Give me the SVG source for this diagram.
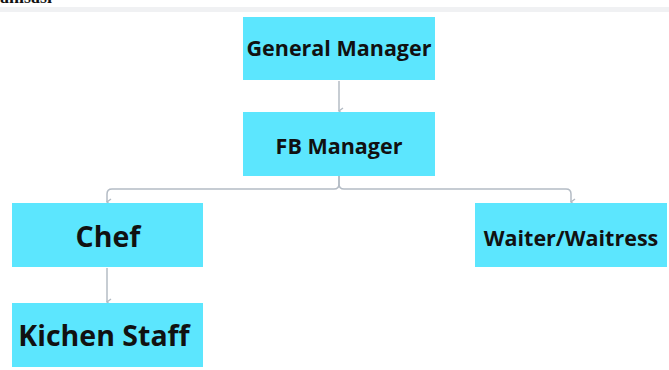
<svg xmlns="http://www.w3.org/2000/svg" width="669" height="370" viewBox="0 0 669 370">
<style>
.box{fill:#5ce6fe;}
.lbl{font-family:"Open Sans","Noto Sans","DejaVu Sans",sans-serif;font-weight:700;fill:#111;text-anchor:middle;dominant-baseline:central;}
.s{font-size:21.5px;}
.l{font-size:28.5px;}
.con{fill:none;stroke:#b4bcc5;stroke-width:1.5;marker-end:url(#ah);}
</style>
<defs>
<marker id="ah" viewBox="0 0 8 8" refX="4" refY="6" markerWidth="8" markerHeight="8" markerUnits="userSpaceOnUse" orient="auto-start-reverse">
<path d="M1,2 L4,6 L7,2" fill="none" stroke="#b4bcc5" stroke-width="1.4"/>
</marker>
</defs>
<rect width="669" height="370" fill="#fff"/>
<text x="0" y="3" font-family="Liberation Serif,serif" font-weight="700" font-size="18" fill="#111">anisasi</text>
<rect x="0" y="7" width="669" height="5" fill="#f0f1f3"/>
<g id="connectors">
<path class="con" d="M339,81 V111"/>
<path class="con" d="M339,176 V184 Q339,189 334,189 H112 Q107,189 107,194 V202"/>
<path class="con" d="M339,176 V184 Q339,189 344,189 H566 Q571,189 571,194 V202"/>
<path class="con" d="M107,268 V302"/>
</g>
<g id="gm"><rect class="box" x="243" y="17" width="192" height="63"/><text class="lbl s" x="339" y="47">General Manager</text></g>
<g id="fb"><rect class="box" x="243" y="112" width="192" height="64"/><text class="lbl s" x="339" y="145">FB Manager</text></g>
<g id="chef"><rect class="box" x="12" y="203" width="191" height="64"/><text class="lbl l" x="108" y="236">Chef</text></g>
<g id="waiter"><rect class="box" x="475" y="203" width="192" height="64"/><text class="lbl s" x="571" y="237">Waiter/Waitress</text></g>
<g id="kitchen"><rect class="box" x="12" y="303" width="191" height="64"/><text class="lbl l" x="104" y="335">Kichen Staff</text></g>
</svg>
